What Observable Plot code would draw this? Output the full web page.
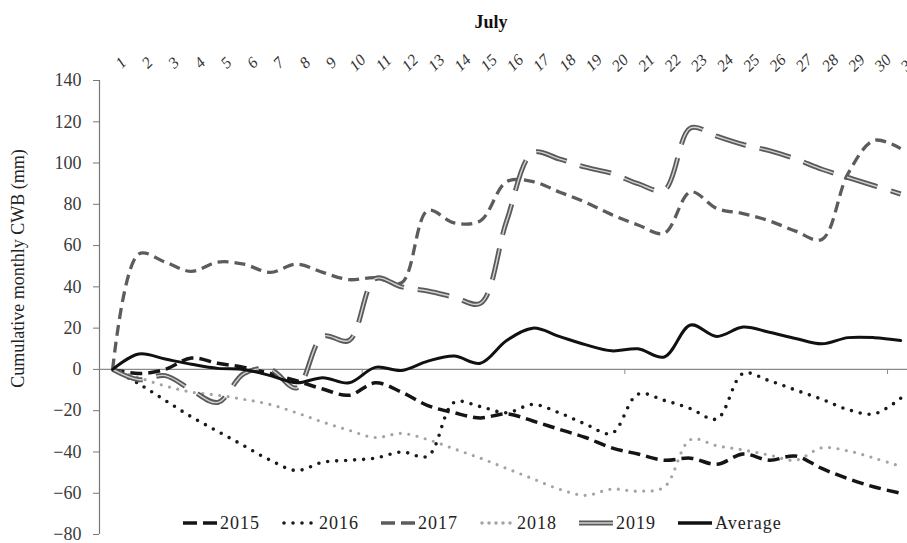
<!DOCTYPE html>
<html><head><meta charset="utf-8">
<script src="https://cdn.jsdelivr.net/npm/d3@7"></script>
<script src="https://cdn.jsdelivr.net/npm/@observablehq/plot@0.6"></script>
<style>
body{margin:0;background:#fff;}
#wrap{position:relative;width:907px;height:543px;overflow:hidden;font-family:'Liberation Serif','Times New Roman',serif;background:#fff;}
#title{position:relative;height:40px;}
#title span{position:absolute;left:491px;top:13px;transform:translateX(-50%);font-weight:bold;font-size:18px;line-height:18px;color:#111;}
#legend{position:absolute;left:183px;top:513px;height:20px;display:flex;align-items:center;font-size:18px;color:#222;letter-spacing:1px;}
.item{display:flex;align-items:center;width:99px;}
.item svg{margin-right:3px;}
#chart svg text{font-family:'Liberation Serif','Times New Roman',serif;}
</style></head>
<body><div id="wrap"><div id="title"><span>July</span></div><div id="chart"></div><div id="legend"></div></div>
<script>
const days = [1,2,3,4,5,6,7,8,9,10,11,12,13,14,15,16,17,18,19,20,21,22,23,24,25,26,27,28,29,30,31];
const s2015 = [0,-2,0,5.5,3,1,-2,-5.5,-9.5,-12.5,-6.5,-11,-17.5,-21,-23.5,-21.5,-25,-29,-33,-38,-41,-44,-43,-46,-41,-44,-42,-48,-53,-57,-60];
const s2016 = [0,-7,-15,-23,-30,-37,-44,-49,-45,-44,-43,-40,-42,-16,-18,-21,-17,-21,-26.5,-31,-12,-15,-19,-24,-2,-5.5,-10,-14.5,-19.5,-21.5,-14];
const s2017 = [0,56,52,47.5,52,51,47,51,47,43.5,44.5,42,77,71,72,91,91,86,81,75,70,66,86,78,75.5,72,67,63,95,111,107];
const s2018 = [0,-4,-8,-11,-12.5,-14.5,-17,-21,-25.5,-29.5,-33,-31,-34,-38.5,-43,-48,-53,-58,-61,-58,-59,-57,-34,-37,-39,-41.5,-44,-38,-39.5,-43,-47];
const s2019 = [0,-5,-3,-10,-16,-2,0,-9,16,14,44,40,38,35,32,72,105,102,98,95,90,87,117,113,109,106,102,97,93,89,85];
const sAvg  = [0,7.5,5,2.5,0.5,0,-3,-6.5,-4,-6.5,1,-0.5,4,6.5,3,14,20,16,12,9,10,6,21.5,16,20.5,18,15,12.4,15.4,15.4,14];
const seriesNames = ["2015","2016","2017","2018","2019","Average"];
const seriesValues = [s2015,s2016,s2017,s2018,s2019,sAvg];
const yTicks = [-80,-60,-40,-20,0,20,40,60,80,100,120,140];
const zeroLineTicks = [10.5,20.5,30.5];
const yLabel = "Cumulative monthly CWB (mm)";

const seriesStyles = [
  [{stroke:"#151515",strokeWidth:3.5,strokeDasharray:"12,6",strokeLinecap:"butt"}],
  [{stroke:"#1a1a1a",strokeWidth:3.6,strokeDasharray:"0,9",strokeLinecap:"round"}],
  [{stroke:"#5c5c5c",strokeWidth:3.3,strokeDasharray:"11,6",strokeLinecap:"butt"}],
  [{stroke:"#a3a3a3",strokeWidth:3.2,strokeDasharray:"0,8.5",strokeLinecap:"round"}],
  [{stroke:"#5a5a5a",strokeWidth:5,strokeDasharray:"32,14",strokeLinecap:"butt"},
   {stroke:"#d2d2d2",strokeWidth:1.4,strokeDasharray:"32,14",strokeLinecap:"butt"}],
  [{stroke:"#111111",strokeWidth:3,strokeLinecap:"round"}]
];
const legendDash = ["14,6","0,9","14,6","0,7",null,null];
const serif = "'Liberation Serif','Times New Roman',serif";

const lineMarks = [];
seriesValues.forEach((vals, i) => {
  const rows = days.map((d, j) => ({day: d, v: vals[j], series: seriesNames[i]}));
  seriesStyles[i].forEach(st => {
    lineMarks.push(Plot.line(rows, {x: "day", y: "v", curve: "catmull-rom", strokeLinejoin: "round", ...st}));
  });
});

const chart = Plot.plot({
  width: 907, height: 503,
  marginTop: 40, marginBottom: 9, marginLeft: 99, marginRight: 0,
  style: {fontFamily: serif, fontSize: "18px", color: "#333", background: "white", overflow: "hidden"},
  x: {domain: [0.5, 31.26], axis: null},
  y: {domain: [-80, 140]},
  marks: [
    Plot.axisY({ticks: yTicks, tickSize: 6, tickPadding: 12, label: null, stroke: "#777", fill: "#3a3a3a", fontFamily: serif, fontSize: 18}),
    Plot.ruleX([0.5], {stroke: "#777", strokeWidth: 1.2}),
    Plot.ruleY([0], {stroke: "#8a8a8a", strokeWidth: 1.2}),
    Plot.ruleX(zeroLineTicks, {y1: 0, y2: -2.5, stroke: "#8a8a8a"}),
    Plot.text(days, {x: d => d, text: d => String(d), frameAnchor: "top", textAnchor: "middle", dy: -22, dx: 4, rotate: -45, fontSize: 16, fontStyle: "italic", fill: "#333", fontFamily: serif}),
    Plot.text([yLabel], {text: d => d, frameAnchor: "left", textAnchor: "middle", lineAnchor: "middle", dx: -81, dy: -39, rotate: -90, fontSize: 18, fill: "#222", fontFamily: serif}),
    ...lineMarks
  ]
});
document.getElementById("chart").appendChild(chart);

// legend
const legend = d3.select("#legend");
seriesNames.forEach((name, i) => {
  const item = legend.append("div").attr("class", "item");
  if (i === seriesNames.length - 1) item.style("width", "auto");
  const sv = item.append("svg").attr("width", 34).attr("height", 12);
  seriesStyles[i].forEach(s => {
    sv.append("line").attr("x1", legendDash[i] && legendDash[i].startsWith("0") ? 2 : 0).attr("x2", 34).attr("y1", 6).attr("y2", 6)
      .attr("stroke", s.stroke).attr("stroke-width", i === 4 ? (s.strokeWidth === 5 ? 5 : 1.4) : Math.max(s.strokeWidth, 3.5))
      .attr("stroke-linecap", s.strokeLinecap)
      .attr("stroke-dasharray", legendDash[i]);
  });
  item.append("span").text(name);
});
</script></body></html>
